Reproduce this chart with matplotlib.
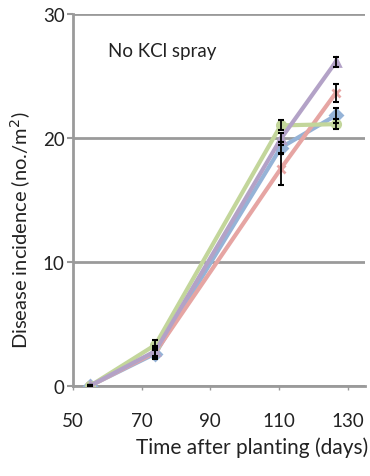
import numpy as np
import matplotlib
matplotlib.use('Agg')
import matplotlib.pyplot as plt

plt.rcParams['font.family'] = ['Lato', 'DejaVu Sans']

days = [55, 74, 110.5, 126.5]

# series values (disease incidence, no./m2) and error bars
blue = [0.0, 2.6, 19.2, 21.8]
blue_err = [0.1, 0.4, 0.5, 0.6]
red = [0.0, 2.7, 17.5, 23.6]
red_err = [0.1, 0.4, 1.3, 0.7]
green = [0.0, 3.3, 21.0, 21.1]
green_err = [0.1, 0.4, 0.4, 0.4]
purple = [0.0, 2.8, 19.9, 26.1]
purple_err = [0.1, 0.4, 0.5, 0.4]

series = [
    (blue, blue_err, '#95B3D7', 'D'),
    (red, red_err, '#E6A5A3', 'x'),
    (green, green_err, '#C3D69B', 'o'),
    (purple, purple_err, '#B3A2C7', '^'),
]

fig = plt.figure(figsize=(3.7, 4.77), dpi=100)
ax = fig.add_axes([0.197, 0.189, 0.789, 0.78])

for vals, err, col, mk in series:
    ax.errorbar(days, vals, yerr=err, fmt='none', ecolor='black',
                elinewidth=1.3, capsize=2.5, capthick=1.5, zorder=4)
    ax.plot(days, vals, color=col, lw=3, marker=mk, ms=6,
            mec=col, mfc=col, mew=2, zorder=3)

ax.set_xlim(50, 135)
ax.set_ylim(0, 30)
ax.set_xticks([50, 70, 90, 110, 130])
ax.set_yticks([0, 10, 20, 30])
ax.yaxis.grid(True, color='#9a9a9a', lw=2)
ax.set_axisbelow(True)

for s in ['top', 'right']:
    ax.spines[s].set_visible(False)
for s in ['left', 'bottom']:
    ax.spines[s].set_color('#9a9a9a')
    ax.spines[s].set_linewidth(2)

ax.tick_params(axis='y', length=4, width=1.5, color='#9a9a9a',
               labelsize=13.5, labelcolor='#222222', pad=2)
ax.tick_params(axis='x', length=3, width=1, color='#9a9a9a',
               labelsize=13.5, labelcolor='#222222', pad=16)

ax.set_xlabel('Time after planting (days)', fontsize=15, color='#222222')
ax.xaxis.set_label_coords(0.613, -0.135)
ax.set_ylabel('Disease incidence (no./m$^2$)', fontsize=14.5, color='#222222',
              va='center')
ax.yaxis.set_label_coords(-0.18, 0.42)

ax.text(0.12, 0.9, 'No KCl spray', transform=ax.transAxes, fontsize=13.5,
        color='#222222', va='center', ha='left')

fig.savefig('out.png', dpi=100)
